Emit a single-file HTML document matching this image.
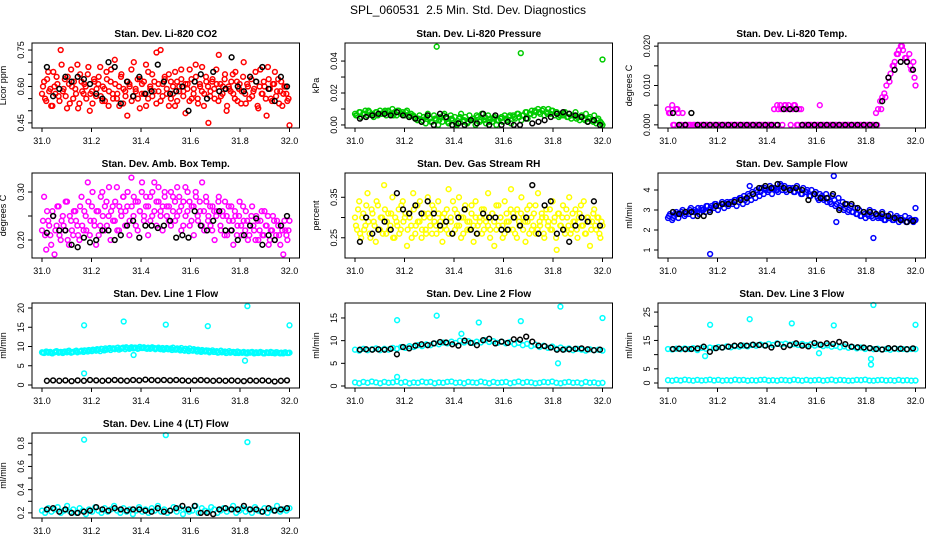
<!DOCTYPE html>
<html><head><meta charset="utf-8"><style>
html,body{margin:0;padding:0;background:#fff;}
svg{display:block;font-family:"Liberation Sans",sans-serif;}
</style></head><body>
<svg id="fig" width="936" height="540" viewBox="0 0 936 540">
<rect width="936" height="540" fill="#fff"/>
<text x="468" y="14" text-anchor="middle" font-size="12" style="white-space:pre">SPL_060531  2.5 Min. Std. Dev. Diagnostics</text>
</svg>
<script>
const xTicks = [31.0,31.2,31.4,31.6,31.8,32.0];
const xTickLabels = ["31.0","31.2","31.4","31.6","31.8","32.0"];

const co2Red = [0.57,0.62,0.54,0.66,0.59,0.52,0.60,0.64,0.56,0.75,0.58,0.63,0.51,0.61,0.67,0.55,0.59,0.69,0.53,0.62,
0.57,0.60,0.65,0.50,0.58,0.63,0.56,0.61,0.68,0.54,0.59,0.66,0.52,0.62,0.57,0.71,0.55,0.60,0.64,0.53,
0.58,0.48,0.61,0.67,0.56,0.59,0.63,0.51,0.57,0.62,0.69,0.55,0.60,0.65,0.58,0.53,0.61,0.75,0.56,0.64,
0.59,0.52,0.62,0.57,0.66,0.54,0.60,0.63,0.58,0.49,0.61,0.67,0.55,0.59,0.64,0.53,0.60,0.68,0.57,0.62,
0.45,0.58,0.63,0.55,0.61,0.73,0.56,0.60,0.65,0.52,0.59,0.62,0.57,0.66,0.54,0.61,0.58,0.70,0.53,0.60,
0.64,0.56,0.59,0.62,0.51,0.67,0.57,0.60,0.48,0.63,0.55,0.61,0.66,0.58,0.53,0.62,0.57,0.60,0.54,0.44];
const co2Red2 = [0.60,0.55,0.63,0.58,0.52,0.66,0.57,0.61,0.54,0.69,0.59,0.56,0.64,0.53,0.60,0.62,0.57,0.51,0.65,0.58,
0.61,0.55,0.68,0.57,0.53,0.62,0.59,0.64,0.56,0.60,0.54,0.63,0.58,0.67,0.55,0.61,0.57,0.52,0.65,0.59,
0.56,0.62,0.60,0.54,0.70,0.58,0.55,0.63,0.61,0.57,0.52,0.66,0.59,0.56,0.62,0.74,0.58,0.54,0.61,0.63,
0.57,0.65,0.55,0.60,0.52,0.62,0.58,0.67,0.56,0.61,0.59,0.54,0.63,0.57,0.69,0.55,0.61,0.58,0.52,0.64,
0.60,0.56,0.62,0.59,0.67,0.54,0.61,0.57,0.63,0.50,0.60,0.58,0.65,0.55,0.62,0.59,0.53,0.64,0.57,0.61,
0.55,0.63,0.58,0.66,0.52,0.60,0.57,0.62,0.55,0.68,0.59,0.54,0.61,0.56,0.63,0.58,0.52,0.60,0.57,0.55];
const co2Black = [0.68,0.56,0.59,0.64,0.62,0.64,0.63,0.61,0.57,0.55,0.70,0.68,0.53,0.62,0.56,0.64,0.57,0.58,0.69,0.62,0.57,0.58,0.60,0.50,0.62,0.65,0.55,0.66,0.58,0.59,0.72,0.60,0.58,0.64,0.62,0.68,0.59,0.54,0.64,0.60];

const pressGreen = [0.007,0.006,0.008,0.005,0.007,0.009,0.006,0.008,0.007,0.005,0.008,0.006,0.009,0.007,0.008,0.006,0.009,0.007,0.010,0.008,0.006,0.009,0.007,0.008,0.006,0.009,0.005,0.007,0.006,0.004,
0.003,0.006,0.002,0.005,0.001,0.007,0.004,0.002,0.006,0.003,0.000,0.005,0.002,0.007,0.004,0.001,0.006,0.003,0.005,0.000,0.004,0.007,0.002,0.005,0.001,0.006,0.003,0.004,0.000,0.005,0.002,0.007,0.003,0.001,0.006,0.004,0.002,0.005,0.000,0.003,
0.004,0.002,0.006,0.003,0.005,0.001,0.006,0.004,0.007,0.005,0.003,0.006,0.008,0.004,0.007,0.009,0.006,0.008,0.010,0.007,0.009,0.006,0.008,0.010,0.007,0.009,0.006,0.008,0.005,0.007,
0.006,0.008,0.005,0.007,0.004,0.006,0.008,0.005,0.003,0.006,0.004,0.007,0.002,0.005,0.003,0.006,0.001,0.004,0.002,0.000];
const pressGreen2 = [0.006,0.008,0.007,0.009,0.006,0.008,0.007,0.009,0.008,0.006,0.009,0.007,0.008,0.006,0.005,0.004,0.003,0.005,0.002,0.004,0.003,0.006,0.002,0.004,0.001,0.005,0.003,0.002,0.004,0.006,0.003,0.005,0.002,0.004,0.003,0.005,0.004,0.006,0.005,0.007,0.006,0.008,0.007,0.009,0.008,0.010,0.007,0.009,0.008,0.006,0.007,0.005,0.006,0.004,0.005,0.003,0.004,0.002,0.003,0.001];
const pressOutT = [31.33,31.67,32.0];
const pressOutV = [0.049,0.045,0.041];
const pressBlack = [0.004,0.005,0.006,0.007,0.007,0.006,0.008,0.006,0.005,0.004,0.002,0.006,0.000,0.007,0.005,0.000,0.001,0.000,0.003,0.001,0.007,0.000,0.006,0.000,0.002,0.000,0.000,0.004,0.001,0.002,0.003,0.005,0.007,0.008,0.007,0.006,0.005,0.002,0.003,0.000];

const tempMag = [0.004,0.003,0.005,0.000,0.004,0.003,0.000,0.003,0.000,0.000,0.000,0.000,0.000,0.000,0.000,
0,0,0,0,0,0,0,0,0,0,0,0,0,0,0,0,0,0,0,0,0,0,0,0,0,0,0,0,0,0,0,0,0,0,0,
0.000,0.004,0.000,0.004,0.005,0.000,0.005,0.004,0.005,0.000,0.004,0.005,0.000,0.004,0.004,0.000,0.000,
0,0,0,0,0,0,0.005,0,0,0,0,0,0,0,0,0,0,0,0,0,0,0,0,0,0,0,0,0,
0.000,0.000,0.000,0.000,0.000,0.003,0.004,0.006,0.007,0.008,0.010,0.012,0.013,0.015,0.016,0.018,0.019,0.020,0.019,0.017,0.016,0.018,0.014,0.016,0.010];
const tempMag2 = [0.003,0,0.004,0,0,0,0,0,0,0,0,0,0,0,0,0,0,0,0,0,0,0,0,0,0,0,0.005,0.004,0.005,0.004,0.005,0,0,0,0,0,0,0,0,0,0,0,0,0,0,0,0,0,0,0,0,0.004,0.007,0.011,0.015,0.018,0.020,0.017,0.015,0.012];
const tempBlack = [0.003,0,0,0.003,0,0,0,0,0,0,0,0,0,0,0,0,0,0,0.004,0.004,0.004,0,0,0,0,0,0,0,0,0,0,0,0,0,0.006,0.012,0.014,0.016,0.016,0.014];

const ambMag = [0.22,0.29,0.18,0.24,0.21,0.26,0.17,0.23,0.27,0.20,0.25,0.22,0.28,0.19,0.24,0.21,0.26,0.23,0.20,0.29,
0.22,0.25,0.32,0.21,0.27,0.24,0.19,0.26,0.23,0.30,0.22,0.28,0.25,0.20,0.27,0.24,0.31,0.22,0.26,0.29,
0.23,0.27,0.21,0.33,0.25,0.28,0.22,0.26,0.30,0.24,0.27,0.21,0.29,0.25,0.32,0.23,0.28,0.26,0.22,0.30,
0.25,0.27,0.23,0.29,0.24,0.31,0.26,0.22,0.28,0.25,0.30,0.23,0.27,0.21,0.29,0.24,0.26,0.32,0.22,0.28,
0.25,0.23,0.27,0.20,0.26,0.29,0.22,0.25,0.28,0.21,0.24,0.27,0.19,0.25,0.23,0.28,0.21,0.24,0.26,0.20,
0.23,0.27,0.22,0.25,0.20,0.24,0.21,0.26,0.23,0.19,0.22,0.25,0.20,0.24,0.21,0.23,0.17,0.22,0.20,0.24];
const ambMag2 = [0.24,0.21,0.26,0.23,0.19,0.25,0.22,0.27,0.21,0.24,0.23,0.28,0.20,0.25,0.22,0.26,0.24,0.21,0.27,0.23,
0.26,0.22,0.28,0.24,0.30,0.23,0.26,0.21,0.29,0.25,0.27,0.23,0.31,0.26,0.24,0.28,0.22,0.27,0.25,0.29,
0.26,0.30,0.24,0.27,0.29,0.23,0.28,0.26,0.32,0.25,0.29,0.27,0.24,0.30,0.26,0.28,0.31,0.25,0.27,0.29,
0.27,0.24,0.30,0.26,0.28,0.25,0.29,0.27,0.23,0.31,0.26,0.28,0.24,0.27,0.30,0.25,0.28,0.23,0.26,0.29,
0.24,0.27,0.22,0.26,0.25,0.28,0.23,0.26,0.21,0.25,0.27,0.22,0.24,0.26,0.21,0.25,0.23,0.27,0.22,0.24,
0.21,0.25,0.23,0.20,0.24,0.22,0.26,0.21,0.23,0.25,0.20,0.22,0.24,0.21,0.23,0.19,0.22,0.24,0.21,0.22];
const ambBlack = [0.215,0.25,0.22,0.22,0.19,0.185,0.205,0.195,0.20,0.22,0.22,0.20,0.21,0.23,0.24,0.205,0.23,0.23,0.225,0.23,0.24,0.205,0.21,0.205,0.26,0.23,0.22,0.24,0.26,0.22,0.22,0.20,0.21,0.23,0.245,0.19,0.21,0.20,0.23,0.25];

const rhYellow = [0.30,0.27,0.34,0.25,0.31,0.28,0.36,0.26,0.32,0.29,0.24,0.33,0.27,0.30,0.38,0.26,0.31,0.28,0.35,0.25,
0.29,0.32,0.27,0.34,0.30,0.23,0.31,0.28,0.36,0.26,0.33,0.29,0.25,0.31,0.27,0.35,0.30,0.26,0.32,0.28,
0.34,0.29,0.24,0.31,0.27,0.37,0.30,0.26,0.32,0.28,0.35,0.25,0.30,0.33,0.27,0.29,0.31,0.24,0.34,0.28,
0.30,0.26,0.32,0.29,0.36,0.27,0.31,0.23,0.33,0.28,0.30,0.25,0.34,0.29,0.27,0.37,0.31,0.26,0.32,0.28,
0.35,0.30,0.24,0.29,0.33,0.27,0.31,0.26,0.36,0.28,0.30,0.25,0.32,0.29,0.27,0.34,0.30,0.22,0.31,0.28,
0.33,0.26,0.30,0.35,0.27,0.29,0.32,0.25,0.31,0.28,0.34,0.26,0.30,0.23,0.29,0.32,0.27,0.30,0.25,0.28];
const rhYellow2 = [0.28,0.32,0.26,0.30,0.27,0.33,0.29,0.25,0.31,0.28,0.34,0.27,0.30,0.26,0.32,0.29,0.27,0.31,0.25,0.30,
0.28,0.26,0.33,0.29,0.31,0.27,0.30,0.25,0.32,0.28,0.29,0.34,0.27,0.30,0.26,0.31,0.28,0.33,0.29,0.26,
0.31,0.27,0.30,0.28,0.32,0.26,0.29,0.34,0.27,0.31,0.28,0.30,0.26,0.32,0.29,0.27,0.33,0.28,0.30,0.26,
0.29,0.32,0.27,0.30,0.28,0.25,0.31,0.29,0.27,0.33,0.30,0.28,0.26,0.31,0.29,0.32,0.27,0.30,0.25,0.29,
0.31,0.27,0.29,0.32,0.26,0.30,0.28,0.33,0.27,0.29,0.31,0.26,0.30,0.28,0.32,0.27,0.29,0.25,0.31,0.28,
0.30,0.27,0.32,0.28,0.26,0.31,0.29,0.27,0.30,0.33,0.28,0.26,0.30,0.29,0.27,0.31,0.28,0.30,0.26,0.29];
const rhBlack = [0.24,0.30,0.26,0.27,0.29,0.27,0.36,0.32,0.31,0.33,0.31,0.34,0.31,0.28,0.29,0.26,0.30,0.32,0.27,0.26,0.31,0.30,0.30,0.27,0.27,0.30,0.28,0.30,0.38,0.26,0.33,0.34,0.26,0.27,0.24,0.28,0.30,0.29,0.34,0.28];

const flowBlue = [2.6,2.8,2.5,2.7,2.9,2.6,2.8,3.0,2.7,2.9,2.8,3.1,2.7,3.0,2.9,2.8,3.1,3.0,2.9,3.2,
3.0,3.2,3.1,3.3,3.0,3.2,3.4,3.1,3.3,3.2,3.4,3.3,3.5,3.2,3.4,3.6,3.3,3.5,3.4,3.7,
3.5,3.8,3.6,3.9,3.7,4.1,3.8,4.0,3.9,4.2,3.8,4.1,4.0,3.9,4.3,4.0,4.2,3.9,4.1,4.0,
4.1,3.9,4.2,4.0,3.8,4.1,3.9,4.0,3.7,4.0,3.8,3.9,3.6,3.8,3.7,3.5,3.8,3.6,3.4,3.7,
3.5,3.3,3.6,3.2,3.4,3.1,3.3,3.0,3.2,2.9,3.1,2.8,3.0,2.7,2.9,2.6,2.8,3.0,2.7,2.9,
2.8,2.6,2.7,2.9,2.5,2.7,2.6,2.8,2.5,2.6,2.7,2.4,2.6,2.5,2.7,2.4,2.6,2.5,2.4,2.5];
const flowBlue2 = [2.7,2.6,2.8,2.9,2.8,3.0,2.9,3.1,3.0,3.2,3.1,3.3,3.2,3.3,3.4,3.4,3.5,3.6,3.7,3.8,3.9,4.0,3.9,4.1,4.0,4.1,4.0,4.2,4.0,4.1,3.9,4.0,3.8,3.9,3.7,3.8,3.5,3.6,3.4,3.3,3.2,3.1,3.0,2.9,2.9,2.8,2.7,2.8,2.7,2.6,2.7,2.6,2.5,2.6,2.5,2.6,2.5,2.4,2.5,2.5];
const flowOutT = [31.17,31.33,31.67,31.68,31.83,32.0];
const flowOutV = [0.8,4.2,4.7,2.4,1.6,3.1];
const flowBlack = [2.9,2.8,2.9,2.9,2.7,2.7,2.9,3.2,3.3,3.3,3.4,3.5,3.6,3.8,4.1,4.2,4.1,4.3,4.1,4.0,4.1,4.0,3.5,3.8,3.6,3.6,3.8,3.0,3.3,3.3,3.1,2.9,2.9,2.8,2.8,2.7,2.6,2.5,2.4,2.45];

const line1Cyan = [8.5,8.3,8.7,8.4,8.6,8.2,8.5,8.8,8.4,8.6,8.3,8.7,8.5,8.9,8.4,8.6,8.8,8.5,8.7,8.9,
8.6,8.9,8.7,9.0,8.8,9.1,8.9,9.2,8.8,9.3,9.0,9.2,9.4,9.1,9.5,9.3,9.6,9.2,9.4,9.7,
9.3,9.6,9.4,9.8,9.5,9.7,9.4,9.9,9.6,9.8,9.5,9.7,9.4,9.8,9.6,9.5,9.7,9.3,9.6,9.4,
9.6,9.3,9.5,9.7,9.2,9.5,9.3,9.6,9.1,9.4,9.2,9.5,9.0,9.3,9.1,9.2,8.9,9.1,8.8,9.0,
8.9,8.7,9.0,8.6,8.8,8.5,8.9,8.6,8.7,8.4,8.8,8.5,8.6,8.3,8.7,8.5,8.4,8.6,8.3,8.5,
8.4,8.6,8.2,8.5,8.3,8.6,8.4,8.2,8.5,8.3,8.6,8.4,8.2,8.5,8.3,8.4,8.2,8.5,8.3,8.4];
const line1Cyan2 = [8.4,8.6,8.3,8.7,8.5,8.6,8.8,8.5,8.9,8.7,9.0,9.1,9.2,9.3,9.4,9.5,9.6,9.5,9.7,9.6,9.8,9.6,9.7,9.5,9.6,9.4,9.5,9.3,9.4,9.2,9.3,9.1,9.2,9.0,8.9,8.8,8.9,8.7,8.6,8.7,8.5,8.6,8.4,8.5,8.3,8.4,8.5,8.3,8.4,8.2,8.5,8.3,8.4,8.2,8.4,8.3,8.5,8.2,8.4,8.3];
const line1OutT = [31.17,31.17,31.33,31.37,31.5,31.67,31.82,31.83,32.0];
const line1OutV = [15.5,3.0,16.5,7.8,15.7,15.3,6.3,20.5,15.5];
const line1Black = [1.1,1.2,1.1,1.2,1.0,1.2,1.1,1.3,1.2,1.1,1.2,1.3,1.2,1.1,1.3,1.2,1.4,1.3,1.2,1.3,1.2,1.3,1.2,1.1,1.2,1.3,1.2,1.1,1.2,1.1,1.2,1.1,1.0,1.2,1.1,1.2,1.1,0.9,1.1,1.2];

const line2Cyan = [8.0,7.8,8.2,7.9,8.1,8.3,7.9,8.2,8.0,8.4,8.2,8.6,8.4,8.8,8.6,9.0,8.8,9.2,9.0,9.4,9.2,9.6,9.4,9.8,9.5,10.0,9.6,9.9,9.5,9.8,9.6,10.1,9.7,9.9,9.5,9.8,9.4,9.7,9.2,9.5,9.0,9.3,8.8,9.1,8.6,8.9,8.4,8.7,8.2,8.5,8.1,8.3,7.9,8.2,8.0,7.8,8.1,7.9,8.0,7.8];
const line2Low = [0.8,0.6,0.9,0.7,1.0,0.8,0.6,0.9,0.7,0.8,1.0,0.7,0.9,0.6,0.8,0.7,1.0,0.8,0.9,0.6,0.8,0.7,0.9,1.0,0.7,0.8,0.6,0.9,0.8,0.7,1.0,0.8,0.6,0.9,0.7,0.8,0.9,0.6,0.8,1.0,0.7,0.9,0.8,0.6,0.7,0.9,0.8,1.0,0.7,0.6,0.8,0.9,0.7,0.8,0.6,0.9,0.7,0.8,0.6,0.7];
const line2OutT = [31.17,31.17,31.33,31.43,31.5,31.67,31.82,31.83,32.0];
const line2OutV = [14.5,2.0,15.5,11.5,14.0,14.3,5.0,17.5,15.0];
const line2Black = [8.0,8.1,8.0,8.1,8.0,8.2,7.0,8.6,8.3,8.9,9.2,9.0,9.4,9.7,9.6,9.2,8.9,10.0,9.5,9.0,10.1,10.4,9.4,9.8,9.5,10.3,10.2,10.9,9.8,8.9,8.8,8.5,8.0,8.0,8.1,8.2,8.3,8.1,7.9,8.0];

const line3Cyan = [12.0,11.8,12.1,11.9,12.2,12.0,12.3,11.6,12.4,12.1,12.5,12.3,12.7,12.5,12.9,12.6,13.0,12.8,13.2,12.9,13.4,13.1,13.6,13.3,13.8,13.4,14.0,13.6,13.9,13.5,13.7,13.4,13.8,13.3,13.6,13.2,13.5,13.0,13.3,12.8,13.1,12.6,12.9,12.4,12.7,12.2,12.5,12.0,12.3,11.9,12.1,11.8,12.0,11.7,12.1,11.9,12.0,11.8,12.0,11.9];
const line3Low = [1.0,0.8,1.1,0.9,1.2,1.0,0.8,1.1,0.9,1.0,1.2,0.9,1.1,0.8,1.0,0.9,1.2,1.0,1.1,0.8,1.0,0.9,1.1,1.2,0.9,1.0,0.8,1.1,1.0,0.9,1.2,1.0,0.8,1.1,0.9,1.0,1.1,0.8,1.0,1.2,0.9,1.1,1.0,0.8,0.9,1.1,1.0,1.2,0.9,0.8,1.0,1.1,0.9,1.0,0.8,1.1,0.9,1.0,0.8,0.9];
const line3OutT = [31.15,31.17,31.33,31.5,31.61,31.67,31.82,31.82,31.83,32.0];
const line3OutV = [9.5,20.5,22.5,21.0,10.5,20.3,8.5,6.5,27.5,20.5];
const line3Black = [12.0,12.1,11.9,12.0,12.2,12.8,11.0,12.3,12.5,12.8,13.2,13.3,13.2,13.5,13.4,13.2,12.5,13.8,12.7,13.3,14.0,13.2,12.9,14.1,13.5,14.0,13.8,14.5,13.7,12.8,12.6,12.5,12.3,12.0,11.8,12.3,12.2,12.1,11.9,12.2];

const line4Cyan = [0.22,0.20,0.24,0.21,0.23,0.25,0.20,0.22,0.26,0.21,0.23,0.20,0.24,0.22,0.19,0.23,0.21,0.25,0.22,0.20,0.24,0.21,0.23,0.26,0.22,0.20,0.24,0.21,0.23,0.19,0.22,0.25,0.21,0.23,0.20,0.24,0.22,0.26,0.21,0.23,0.20,0.22,0.25,0.21,0.24,0.19,0.23,0.21,0.22,0.26,0.20,0.24,0.22,0.21,0.25,0.23,0.20,0.22,0.24,0.21,0.23,0.26,0.20,0.22,0.24,0.21,0.23,0.20,0.25,0.22,0.21,0.24,0.20,0.23,0.22,0.26,0.21,0.23,0.22,0.24];
const line4OutT = [31.17,31.5,31.83];
const line4OutV = [0.83,0.87,0.81];
const line4Black = [0.23,0.24,0.21,0.23,0.20,0.20,0.21,0.22,0.25,0.23,0.22,0.24,0.23,0.22,0.23,0.23,0.22,0.21,0.24,0.21,0.22,0.24,0.26,0.23,0.26,0.20,0.20,0.19,0.23,0.24,0.23,0.23,0.26,0.23,0.23,0.21,0.24,0.22,0.23,0.24];

const NS = "http://www.w3.org/2000/svg";
const svg = document.getElementById("fig");
const colX31 = [42,355,668];
const pxPerUnit = 247.5;
const rowTop = [43,173,303,433];
const boxH = 85;

function even(n,a,b){const out=[];for(let i=0;i<n;i++)out.push(n===1?a:a+(b-a)*i/(n-1));return out;}
function mk(tag,attrs,parent){const e=document.createElementNS(NS,tag);for(const k in attrs)e.setAttribute(k,attrs[k]);(parent||svg).appendChild(e);return e;}

function panel(cfg){
  const g = mk("g",{});
  
  
  const x31 = colX31[cfg.col];
  const left = x31 - 10, right = x31 + pxPerUnit + 10;
  const top = rowTop[cfg.row], bottom = top + boxH;
  const sx = t => x31 + (t - 31) * pxPerUnit;
  const sy = v => bottom - (v - cfg.lo) / (cfg.hi - cfg.lo) * boxH;
  const ti = mk("text",{x:(left+right)/2,y:top-6,"text-anchor":"middle","font-size":"10","font-weight":"bold"},g);
  ti.textContent = cfg.title;
  
  
  const yl = mk("text",{x:0,y:0,"text-anchor":"middle","font-size":"9",transform:`translate(${left-26},${(top+bottom)/2}) rotate(-90)`},g);
  yl.textContent = cfg.ylab;
  
  
  const pg = mk("g",{fill:"none","stroke-width":"1.5"},g);
  
  
  cfg.series.forEach(s=>{
    const ts = s.t || even(s.v.length, s.t0, s.t1);
    s.v.forEach((v,i)=>{
      const c = mk("circle",{cx:sx(ts[i]).toFixed(1),cy:sy(v).toFixed(1),r:"2.4",stroke:s.color},pg);
      
      
    });
  });
  const bx = mk("rect",{x:left,y:top,width:right-left,height:boxH,fill:"none",stroke:"#000","stroke-width":"1"},g);
  
  
  const xa = mk("g",{},g);
  
  
  xTicks.forEach((t,i)=>{
    mk("line",{x1:sx(t),x2:sx(t),y1:bottom,y2:bottom+4,stroke:"#000"},xa);
    const tl = mk("text",{x:sx(t),y:bottom+16,"text-anchor":"middle","font-size":"9"},xa);
    tl.textContent = xTickLabels[i];
    
    
  });
  const ya = mk("g",{},g);
  
  
  cfg.ticks.forEach(v=>{
    mk("line",{x1:left-4,x2:left,y1:sy(v),y2:sy(v),stroke:"#000"},ya);
  });
  cfg.labels.forEach((lab,i)=>{
    const tl = mk("text",{x:0,y:0,"text-anchor":"middle","font-size":"9",transform:`translate(${left-8},${sy(cfg.labelVals[i])}) rotate(-90)`},ya);
    tl.textContent = lab;
    
    
  });
}

const C0=31.0, C1=32.0, D0=31.004, D1=31.996, B0=31.02, B1=31.99;
panel({name:"co2-panel",col:0,row:0,title:"Stan. Dev. Li-820 CO2",ylab:"Licor ppm",lo:0.429,hi:0.779,
  ticks:[0.45,0.5,0.55,0.6,0.65,0.7,0.75],labelVals:[0.45,0.60,0.75],labels:["0.45","0.60","0.75"],
  series:[{v:co2Red,t0:C0,t1:C1,color:"#ff0000",label:"co2-point"},{v:co2Red2,t0:D0,t1:D1,color:"#ff0000",label:"co2-point"},{v:co2Black,t0:B0,t1:B1,color:"#000",label:"co2-black-point"}]});
panel({name:"pressure-panel",col:1,row:0,title:"Stan. Dev. Li-820 Pressure",ylab:"kPa",lo:-0.0019,hi:0.0513,
  ticks:[0,0.01,0.02,0.03,0.04],labelVals:[0,0.02,0.04],labels:["0.00","0.02","0.04"],
  series:[{v:pressGreen,t0:C0,t1:C1,color:"#00cc00",label:"pressure-point"},{v:pressGreen2,t0:D0,t1:D1,color:"#00cc00",label:"pressure-point"},{v:pressOutV,t:pressOutT,color:"#00cc00",label:"pressure-outlier"},{v:pressBlack,t0:B0,t1:B1,color:"#000",label:"pressure-black-point"}]});
panel({name:"temp-panel",col:2,row:0,title:"Stan. Dev. Li-820 Temp.",ylab:"degrees C",lo:-0.0008,hi:0.0208,
  ticks:[0,0.005,0.01,0.015,0.02],labelVals:[0,0.01,0.02],labels:["0.000","0.010","0.020"],
  series:[{v:tempMag,t0:C0,t1:C1,color:"#ff00ff",label:"temp-point"},{v:tempMag2,t0:D0,t1:D1,color:"#ff00ff",label:"temp-point"},{v:tempBlack,t0:B0,t1:B1,color:"#000",label:"temp-black-point"}]});
panel({name:"amb-temp-panel",col:0,row:1,title:"Stan. Dev. Amb. Box Temp.",ylab:"degrees C",lo:0.1625,hi:0.3396,
  ticks:[0.2,0.25,0.3],labelVals:[0.2,0.3],labels:["0.20","0.30"],
  series:[{v:ambMag,t0:C0,t1:C1,color:"#ff00ff",label:"amb-temp-point"},{v:ambMag2,t0:D0,t1:D1,color:"#ff00ff",label:"amb-temp-point"},{v:ambBlack,t0:B0,t1:B1,color:"#000",label:"amb-temp-black-point"}]});
panel({name:"rh-panel",col:1,row:1,title:"Stan. Dev. Gas Stream RH",ylab:"percent",lo:0.20,hi:0.41,
  ticks:[0.25,0.3,0.35],labelVals:[0.25,0.35],labels:["0.25","0.35"],
  series:[{v:rhYellow,t0:C0,t1:C1,color:"#ffff00",label:"rh-point"},{v:rhYellow2,t0:D0,t1:D1,color:"#ffff00",label:"rh-point"},{v:rhBlack,t0:B0,t1:B1,color:"#000",label:"rh-black-point"}]});
panel({name:"sample-flow-panel",col:2,row:1,title:"Stan. Dev. Sample Flow",ylab:"ml/min",lo:0.6,hi:4.85,
  ticks:[1,2,3,4],labelVals:[1,2,3,4],labels:["1","2","3","4"],
  series:[{v:flowBlue,t0:C0,t1:C1,color:"#0000ff",label:"sample-flow-point"},{v:flowBlue2,t0:D0,t1:D1,color:"#0000ff",label:"sample-flow-point"},{v:flowOutV,t:flowOutT,color:"#0000ff",label:"sample-flow-outlier"},{v:flowBlack,t0:B0,t1:B1,color:"#000",label:"sample-flow-black-point"}]});
panel({name:"line1-panel",col:0,row:2,title:"Stan. Dev. Line 1 Flow",ylab:"ml/min",lo:-0.78,hi:21.3,
  ticks:[0,5,10,15,20],labelVals:[0,5,10,15,20],labels:["0","5","10","15","20"],
  series:[{v:line1Cyan,t0:C0,t1:C1,color:"#00ffff",label:"line1-point"},{v:line1Cyan2,t0:D0,t1:D1,color:"#00ffff",label:"line1-point"},{v:line1OutV,t:line1OutT,color:"#00ffff",label:"line1-outlier"},{v:line1Black,t0:B0,t1:B1,color:"#000",label:"line1-black-point"}]});
panel({name:"line2-panel",col:1,row:2,title:"Stan. Dev. Line 2 Flow",ylab:"ml/min",lo:-0.44,hi:18.3,
  ticks:[0,5,10,15],labelVals:[0,5,10,15],labels:["0","5","10","15"],
  series:[{v:line2Cyan,t0:C0,t1:C1,color:"#00ffff",label:"line2-point"},{v:line2Low,t0:C0,t1:C1,color:"#00ffff",label:"line2-low-point"},{v:line2OutV,t:line2OutT,color:"#00ffff",label:"line2-outlier"},{v:line2Black,t0:B0,t1:B1,color:"#000",label:"line2-black-point"}]});
panel({name:"line3-panel",col:2,row:2,title:"Stan. Dev. Line 3 Flow",ylab:"ml/min",lo:-1.76,hi:28.2,
  ticks:[0,5,10,15,20,25],labelVals:[0,5,15,25],labels:["0","5","15","25"],
  series:[{v:line3Cyan,t0:C0,t1:C1,color:"#00ffff",label:"line3-point"},{v:line3Low,t0:C0,t1:C1,color:"#00ffff",label:"line3-low-point"},{v:line3OutV,t:line3OutT,color:"#00ffff",label:"line3-outlier"},{v:line3Black,t0:B0,t1:B1,color:"#000",label:"line3-black-point"}]});
panel({name:"line4-panel",col:0,row:3,title:"Stan. Dev. Line 4 (LT) Flow",ylab:"ml/min",lo:0.156,hi:0.888,
  ticks:[0.2,0.3,0.4,0.5,0.6,0.7,0.8],labelVals:[0.2,0.4,0.6,0.8],labels:["0.2","0.4","0.6","0.8"],
  series:[{v:line4Cyan,t0:C0,t1:C1,color:"#00ffff",label:"line4-point"},{v:line4OutV,t:line4OutT,color:"#00ffff",label:"line4-outlier"},{v:line4Black,t0:B0,t1:B1,color:"#000",label:"line4-black-point"}]});
</script>
</body></html>
